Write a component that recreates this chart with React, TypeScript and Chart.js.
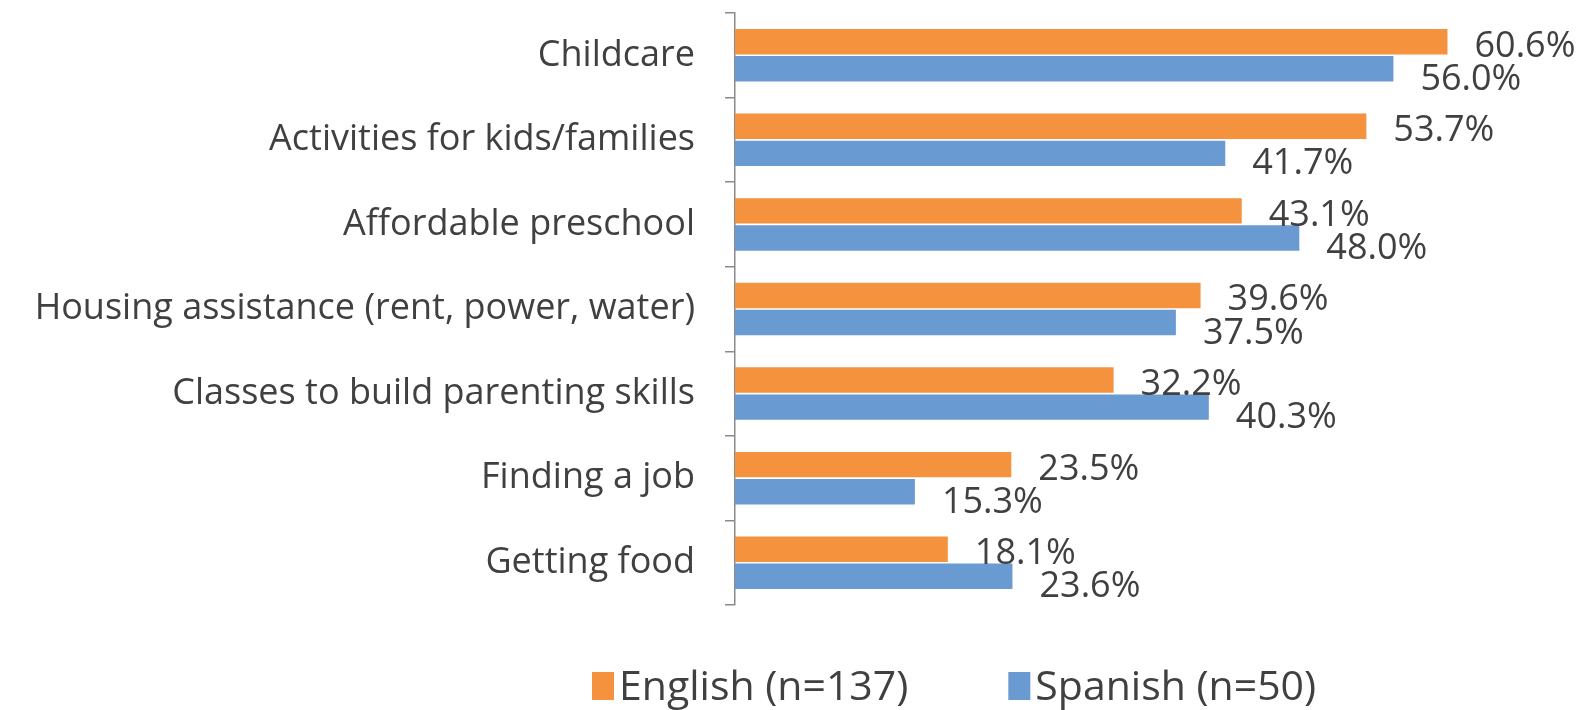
import React, { useEffect, useRef } from "react";
import { Chart, registerables } from "chart.js";

Chart.register(...registerables);

const categories = [
  "Childcare",
  "Activities for kids/families",
  "Affordable preschool",
  "Housing assistance (rent, power, water)",
  "Classes to build parenting skills",
  "Finding a job",
  "Getting food",
];
const englishValues = [60.6, 53.7, 43.1, 39.6, 32.2, 23.5, 18.1];
const spanishValues = [56.0, 41.7, 48.0, 37.5, 40.3, 15.3, 23.6];
const seriesLabels = ["English (n=137)", "Spanish (n=50)"];
const seriesColors = ["#F5923E", "#6A9AD2"];
const xMin = 0;
const xMax = 70;

const FONT = '"Open Sans", "Noto Sans", sans-serif';
const TEXT_COLOR = "#404040";

const valueLabels = {
  id: "valueLabels",
  afterDatasetsDraw(chart: any) {
    const ctx = chart.ctx;
    ctx.save();
    ctx.font = `36px ${FONT}`;
    ctx.fillStyle = TEXT_COLOR;
    ctx.textAlign = "left";
    ctx.textBaseline = "alphabetic";
    chart.data.datasets.forEach((ds: any, di: number) => {
      const meta = chart.getDatasetMeta(di);
      const dy = di === 0 ? 15 : 21;
      meta.data.forEach((el: any, i: number) => {
        const v = ds.data[i] as number;
        ctx.fillText(v.toFixed(1) + "%", el.x + 27, el.y + dy);
      });
    });
    ctx.restore();
  },
};

const customLegend = {
  id: "customLegend",
  afterDraw(chart: any) {
    const ctx = chart.ctx;
    ctx.save();
    ctx.font = `41px ${FONT}`;
    ctx.textAlign = "left";
    ctx.textBaseline = "alphabetic";
    let x = 592;
    const boxTop = 672;
    const boxH = 28;
    const boxW = 22;
    const baseline = 700;
    chart.data.datasets.forEach((ds: any) => {
      ctx.fillStyle = ds.backgroundColor;
      ctx.fillRect(x, boxTop, boxW, boxH);
      ctx.fillStyle = TEXT_COLOR;
      ctx.fillText(ds.label, x + boxW + 5, baseline);
      x += boxW + 5 + ctx.measureText(ds.label).width + 100;
    });
    ctx.restore();
  },
};

export default function App() {
  const canvasRef = useRef<HTMLCanvasElement | null>(null);

  useEffect(() => {
    document.body.style.margin = "0";
    const canvas = canvasRef.current;
    if (!canvas) return;
    const chart = new Chart(canvas, {
      type: "bar",
      data: {
        labels: categories,
        datasets: [
          {
            label: seriesLabels[0],
            data: englishValues,
            backgroundColor: seriesColors[0],
            categoryPercentage: 0.64,
            barPercentage: 0.94,
          },
          {
            label: seriesLabels[1],
            data: spanishValues,
            backgroundColor: seriesColors[1],
            categoryPercentage: 0.64,
            barPercentage: 0.94,
          },
        ],
      },
      options: {
        indexAxis: "y",
        responsive: false,
        animation: false,
        devicePixelRatio: 1,
        layout: { padding: { top: 13, bottom: 105, left: 0, right: 29 } },
        plugins: {
          legend: { display: false },
          tooltip: { enabled: false },
          title: { display: false },
        },
        scales: {
          x: {
            display: false,
            min: xMin,
            max: xMax,
          },
          y: {
            type: "category",
            offset: true,
            afterFit(scale: any) {
              scale.width = 735;
              scale.paddingTop = 0;
              scale.paddingBottom = 0;
            },
            border: { display: true, color: "#8a8a8a", width: 1.5 },
            grid: {
              display: true,
              offset: true,
              drawOnChartArea: false,
              drawTicks: true,
              tickLength: 10,
              color: "#8a8a8a",
              lineWidth: 1.5,
            },
            ticks: {
              autoSkip: false,
              padding: 30,
              color: TEXT_COLOR,
              font: { family: FONT, size: 36 },
            },
          },
        },
      },
      plugins: [valueLabels, customLegend],
    });
    return () => chart.destroy();
  }, []);

  return (
    <canvas
      ref={canvasRef}
      width={1587}
      height={710}
      style={{ display: "block", width: 1587, height: 710 }}
    />
  );
}
